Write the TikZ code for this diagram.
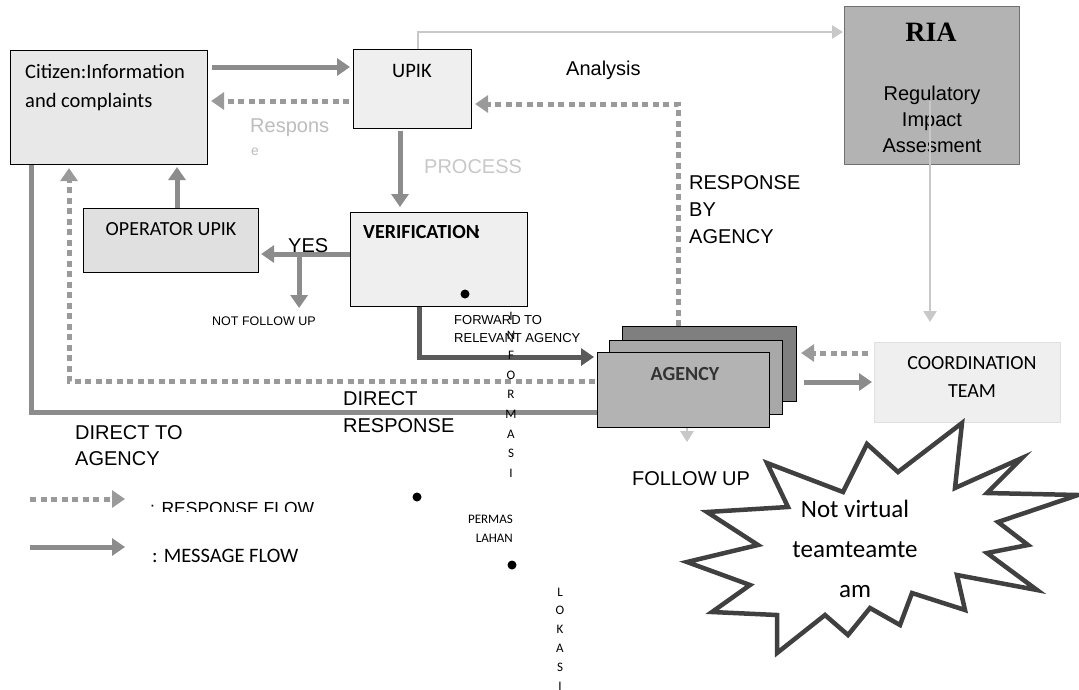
\documentclass[tikz,border=0pt]{standalone}
\usepackage{fontspec}
\setmainfont{Liberation Sans}
\newfontfamily\calib{Carlito}
\newfontfamily\tms{Liberation Serif}
\usetikzlibrary{arrows.meta,calc}
\definecolor{msgc}{HTML}{8C8C8C}
\definecolor{respc}{HTML}{9A9A9A}
\definecolor{lightc}{HTML}{C8C8C8}
\definecolor{fwdc}{HTML}{5A5A5A}
\definecolor{boxa}{HTML}{E8E8E8}
\definecolor{boxb}{HTML}{EFEFEF}
\definecolor{boxc}{HTML}{E0E0E0}
\definecolor{riac}{HTML}{B3B3B3}
\definecolor{riab}{HTML}{707070}
\definecolor{agback}{HTML}{7F7F7F}
\definecolor{agmid}{HTML}{A8A8A8}
\definecolor{agfront}{HTML}{B3B3B3}
\definecolor{starc}{HTML}{404040}
\tikzset{
  box/.style={draw=black, line width=1.1pt, anchor=north west, inner sep=0pt},
  tx/.style={inner sep=0pt, anchor=base west},
  txc/.style={inner sep=0pt, anchor=base},
  msg/.style={draw=msgc, line width=5pt, -{Triangle[length=13pt,width=17pt]}},
  msgline/.style={draw=msgc, line width=5pt},
  resp/.style={draw=respc, line width=5pt, dash pattern=on 6pt off 4.5pt, -{Triangle[length=13pt,width=17pt]}},
  fwd/.style={draw=fwdc, line width=5pt, -{Triangle[length=13pt,width=17pt]}},
  thinarr/.style={draw=lightc, line width=2.5pt, -{Triangle[length=11pt,width=13pt]}},
  big/.style={font=\fontsize{20}{27}\selectfont},
  cbig/.style={font=\calib\fontsize{20.5}{29}\selectfont},
  small/.style={font=\fontsize{12.5}{18}\selectfont},
  csmall/.style={font=\calib\fontsize{13}{19}\selectfont},
}
\begin{document}
\begin{tikzpicture}[x=1pt,y=-1pt]
\useasboundingbox[fill=white] (0,0) rectangle (1079,689);

% boxes
\node[box, fill=boxa, minimum width=197pt, minimum height=114pt] (citizen) at (10,50) {};
\node[box, fill=boxb, minimum width=118pt, minimum height=79pt] (upik) at (353,49) {};
\node[box, draw=riab, fill=riac, minimum width=175pt, minimum height=158pt] (ria) at (844,6) {};
\node[box, fill=boxb, minimum width=177pt, minimum height=94pt] (verif) at (350,212) {};
\node[box, fill=boxc, minimum width=175pt, minimum height=64pt] (oper) at (83,208) {};
\node[box, fill=agback, minimum width=174pt, minimum height=75pt] (aback) at (622,326) {};
\node[box, fill=agmid, minimum width=173pt, minimum height=74pt] (amid) at (609,340) {};
\node[box, fill=agfront, minimum width=172pt, minimum height=75pt] (afront) at (597,352) {};
\node[box, draw=boxc, fill=boxb, minimum width=186pt, minimum height=80pt] (coord) at (874,342) {};

% box texts (base anchor of multi-line nodes = last line)
\node[tx, cbig, align=left] (citizent) at (25,107) {Citizen:Information\\and complaints};
\node[txc, cbig] (upikt) at (412,77) {UPIK};
\node[txc, font=\tms\bfseries\fontsize{28}{30}\selectfont] (riat) at (931,41) {RIA};
\node[txc, align=center, font=\fontsize{20}{26}\selectfont] (riatx) at (932,152) {Regulatory\\Impact\\Assesment};
\node[tx, font=\calib\bfseries\fontsize{20}{27}\selectfont] (verift) at (363,238) {VERIFICATION\kern-4pt:};
\node[txc, font=\calib\fontsize{20}{27}\selectfont] (opert) at (171,235) {OPERATOR UPIK};
\node[txc, font=\calib\bfseries\fontsize{20}{27}\selectfont, text=black!80] (agencyt) at (685,380) {AGENCY};
\node[txc, align=center, font=\calib\fontsize{20}{28}\selectfont] (coordt) at (972,397) {COORDINATION\\TEAM};

% connectors
\draw[msg] ($(citizen.north east)+(4,17)$) -- ($(upik.north west)+(-3,18)$);
\draw[resp] ($(upik.north west)+(-4,52)$) -- ($(citizen.north east)+(3,51)$);
\draw[msg] ($(upik.south west)+(47,2)$) -- ($(verif.north west)+(50,-5)$);
\draw[thinarr] ($(upik.north west)+(65,0)$) |- ($(ria.north west)+(-1,26)$);
\draw[thinarr] ($(ria.north west)+(86,95)$) -- ($(coord.north west)+(56,-20)$);
\draw[resp] ($(aback.north west)+(56,0)$) |- ($(upik.north east)+(3,55)$);
\draw[msg] ($(verif.north west)+(0,42)$) -- ($(oper.north east)+(2,46)$);
\draw[msg] ($(oper.north east)+(40,46)$) -- ($(oper.north east)+(40,100)$);
\draw[msg] ($(oper.north west)+(94,0)$) -- ($(citizen.south west)+(167,2)$);
\draw[resp] ($(afront.north west)+(-2,29)$) -| ($(citizen.south west)+(59,3)$);
\draw[msgline] ($(citizen.south west)+(21,0)$) |- ($(afront.north west)+(0,60)$);
\draw[fwd] ($(verif.south west)+(69,0)$) |- ($(afront.north west)+(-3,5)$);
\draw[thinarr] ($(afront.south west)+(90,0)$) -- ($(afront.south west)+(90,14)$);
\draw[resp] ($(coord.north west)+(-6,11)$) -- ($(aback.north east)+(4,27)$);
\draw[msg] ($(aback.north east)+(7,56)$) -- ($(coord.north west)+(-2,40)$);

% labels
\node[tx, big] (analysis) at (566,75) {Analysis};
\node[tx, big, text=lightc!85!gray] (respons) at (250,132) {Respons};
\node[tx, font=\fontsize{14}{16}\selectfont, text=lightc!85!gray] (respe) at (251,155) {e};
\node[tx, big, text=lightc] (process) at (424,173) {PROCESS};
\node[tx, big] (yes) at (288,252) {YES};
\node[tx, small] (notfollow) at (212,325) {NOT FOLLOW UP};
\node[tx, align=left, font=\fontsize{20}{27}\selectfont] (respby) at (689,243) {RESPONSE\\BY\\AGENCY};
\node[tx, align=left, font=\fontsize{13}{18}\selectfont] (forward) at (454,342) {FORWARD TO\\RELEVANT AGENCY};
\node[tx, align=left, font=\fontsize{20}{27}\selectfont] (directresp) at (343,432) {DIRECT\\RESPONSE};
\node[tx, align=left, font=\fontsize{20}{26}\selectfont] (directto) at (75,465) {DIRECT TO\\AGENCY};
\node[tx, big] (followup) at (632,485) {FOLLOW UP};

% vertical letters
\foreach \l [count=\i from 0] in {I,N,F,O,R,M,A,S,I}
  \node[txc, csmall] (inf\i) at (511,{320+19.7*\i}) {\l};
\foreach \l [count=\i from 0] in {L,O,K,A,S,I}
  \node[txc, csmall] (lok\i) at (560,{596+18.8*\i}) {\l};
\node[inner sep=0pt, anchor=base east, csmall, align=right] (permas) at (513,542) {PERMAS\\LAHAN};

% dots
\fill (465,294) circle (4.5);
\fill (417,497) circle (4.5);
\fill (512,565) circle (4.5);

% starburst
\draw[draw=starc, line width=4.5pt, fill=white, line join=miter]
 (767,463) -- (843,492) -- (867,444) -- (898,472) -- (962,423) -- (955,488)
 -- (1022,458) -- (987,493) -- (1078,495) -- (998,522) -- (1028,545)
 -- (987,553) -- (1037,590) -- (957,575) -- (965,610) -- (912,593)
 -- (900,625) -- (870,608) -- (848,635) -- (825,615) -- (777,653)
 -- (777,615) -- (712,612) -- (750,585) -- (687,562) -- (758,545)
 -- (707,512) -- (788,507) -- cycle;
\node[txc, align=center, font=\calib\fontsize{25}{40}\selectfont] (nv) at (855,597) {Not virtual\\teamteamte\\am};

% legend
\coordinate (la1) at (30,499);
\coordinate (la2) at (125,499);
\coordinate (lb1) at (30,547);
\coordinate (lb2) at (125,547);
\draw[resp] (la1) -- (la2);
\draw[msg] (lb1) -- (lb2);
\begin{scope}
\clip (140,480) rectangle (330,511);
\node[tx, font=\fontsize{17.5}{20}\selectfont] (legresp) at (150,514) {: RESPONSE FLOW};
\end{scope}
\node[tx, cbig] (legmsg) at (152,562) {: MESSAGE FLOW};
\end{tikzpicture}
\end{document}
